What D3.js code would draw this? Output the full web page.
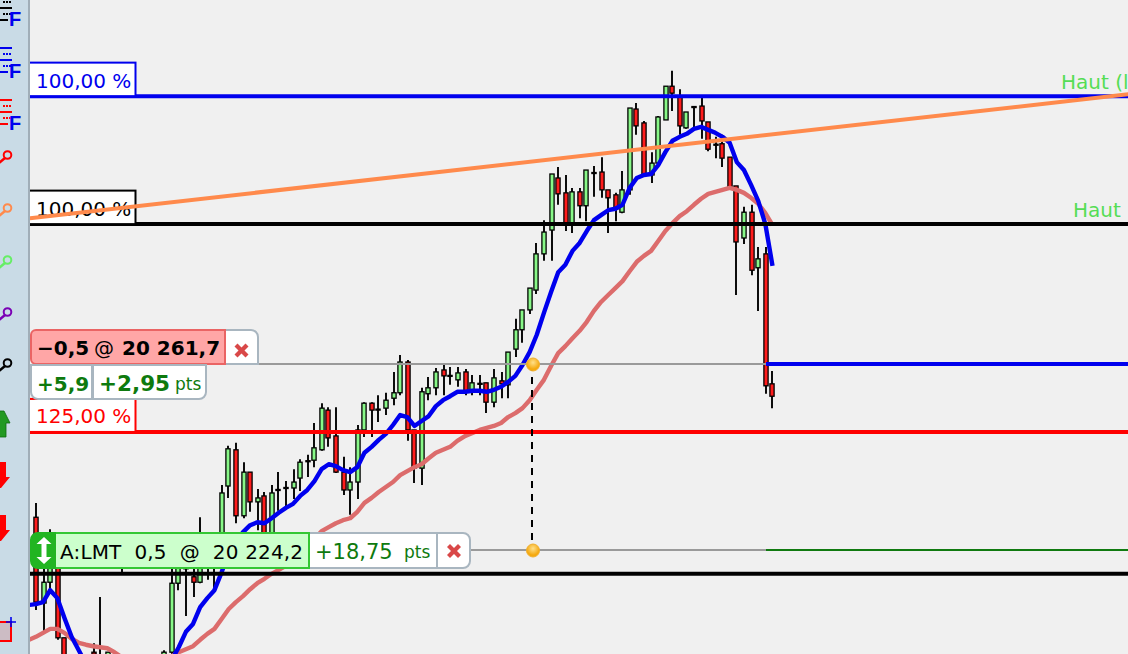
<!DOCTYPE html>
<html><head><meta charset="utf-8">
<script src="https://cdn.jsdelivr.net/npm/d3@7/dist/d3.min.js"></script>
<style>html,body{margin:0;padding:0;background:#f0f0f0;overflow:hidden}svg{display:block}text{font-family:"DejaVu Sans",sans-serif}</style>
</head><body><svg id="c" width="1128" height="654"></svg>
<script>
const open=[20230.8,20213.5,20217.7,20221.2,20206.5,20201,20199,20198,20203.6,20201,20203,20201,20222.2,20199,20199,20200,20200,20200,20202,20203.6,20217.5,20220.8,20218.8,20217.7,20221,20222.2,20221.2,20237.1,20244.4,20231.1,20239.9,20233.9,20235.1,20227.2,20236.4,20236.8,20236.7,20238.7,20242.2,20242.3,20244.4,20252.4,20247.2,20239.9,20236.3,20237.9,20248.4,20253.8,20252.6,20252.8,20254.8,20255.9,20262.1,20248.4,20240.7,20255.7,20256.9,20260.5,20259.4,20258.5,20260.1,20256.1,20257.8,20257.9,20254,20258.3,20257.5,20264.7,20268.6,20272.6,20276.6,20283.9,20288.7,20299.2,20296.2,20290.1,20296.4,20293.6,20300.3,20300.4,20296.8,20295.8,20292.3,20296.8,20313.1,20310.3,20299.8,20302.2,20310.9,20317.7,20315.5,20309.3,20313.6,20313.7,20310.5,20306,20306.1,20303.4,20297.6,20287.1,20292.3,20281.1,20283.9,20257.7];
const high=[20233.7,20222.2,20228.4,20225.2,20206.5,20202,20200,20199,20205.4,20214.7,20203.6,20202.8,20227.2,20200,20200,20201,20201,20201,20204,20221.2,20224.2,20223.2,20221.2,20230.8,20224.2,20224.2,20237.3,20245.2,20245.8,20241.9,20239.9,20236.5,20235.9,20237.3,20239.9,20238.1,20240.5,20242.5,20243.4,20249.8,20253.8,20253,20253,20243,20240.9,20249.4,20254,20254,20255.4,20255.9,20260.1,20263.5,20262.5,20248.4,20256.9,20259.1,20260.9,20261.5,20261.1,20261.1,20260.7,20259.5,20259.5,20257.9,20260.7,20260.1,20264.1,20270.8,20272.6,20277,20286.1,20290.7,20300,20301.4,20299.8,20297.2,20297.2,20300.8,20301.6,20303.4,20296.8,20296.2,20300.6,20313.3,20314.3,20310.7,20304.4,20311.7,20317.7,20320.8,20317.1,20312.5,20313.7,20315.3,20310.5,20307.5,20307.9,20303.4,20297.6,20293.4,20293.8,20285.3,20285.3,20260.3];
const low=[20212.1,20207.7,20216.1,20206.1,20199.6,20196,20194,20194,20200,20200,20200,20198,20219.4,20196,20196,20197,20197,20197,20199,20203.2,20216.1,20210.9,20214.7,20217.5,20218.2,20215.7,20221,20234.7,20229.6,20230.6,20231.9,20228.2,20222.2,20225.2,20232.1,20232.7,20234.5,20236.1,20238.9,20240.9,20244.2,20245,20239.7,20235.3,20231.3,20234.5,20247,20247,20250,20251.4,20253.4,20255.4,20246.2,20237.7,20237.3,20254.4,20255.4,20255.4,20257.5,20257.1,20255.4,20255.4,20255.4,20251.8,20253,20254.8,20254.8,20263.1,20266,20271.8,20275.8,20282.5,20282.5,20293.8,20288.5,20288.1,20291.1,20290.5,20295.4,20295.2,20288.1,20290.5,20292.1,20295.8,20307.9,20299.8,20298.2,20301.8,20310.9,20312.7,20307.9,20309.1,20309.3,20307.1,20304.6,20303.2,20301.4,20297.4,20275.6,20285.9,20279.6,20272.4,20255.7,20252.8];
const close=[20213.7,20217.7,20222.2,20206.5,20201,20199,20198,20199,20203.2,20201.6,20203.6,20202,20225.2,20200,20200,20199,20199,20201,20203.6,20217.5,20222.2,20220.4,20217.7,20222.2,20221.2,20222.6,20235.7,20244.6,20231.1,20239.9,20233.9,20234.7,20226.2,20235.7,20236.2,20236.6,20237.9,20241.9,20242,20244.8,20252.8,20246.8,20239.9,20236.3,20237.9,20248.4,20253.8,20252.4,20252.4,20254.4,20255.9,20262.1,20248.4,20240.7,20256.1,20256.9,20260.1,20259.3,20259.2,20259.9,20256.1,20257.9,20257.6,20254,20258.9,20257.7,20264.1,20268.6,20272.6,20277,20283.9,20288.3,20300,20296,20290.1,20296.4,20293.6,20300.8,20300.1,20296.8,20295.2,20293,20296.8,20313.3,20309.7,20299.8,20302.2,20311.5,20317.7,20316.3,20309.7,20312.5,20313.4,20310.7,20305,20305.8,20303.2,20297.4,20286.3,20292.3,20280.6,20282.9,20257.3,20255.2];
const fastAvg=[20213.1,20213.3,20213.7,20216.1,20214.5,20210.5,20206.7,20204,20201.2,20199.6,20198.4,20197.6,20196.8,20196.4,20196,20196,20196,20196.4,20198,20200,20202,20204.6,20207.7,20209.3,20212.7,20214.5,20216.1,20219.7,20223.6,20226,20227.8,20229.2,20229.8,20229.6,20230.6,20231.7,20232.7,20233.5,20235.1,20236.3,20238.1,20240.5,20241.5,20241.1,20240.3,20239.9,20240.9,20243.8,20245,20246.4,20247.6,20249.4,20251.4,20251,20249.2,20250.2,20251.2,20253.2,20254.4,20255.2,20256.1,20256.1,20256.3,20256.3,20256.1,20256.5,20257.1,20258.1,20259.3,20261.5,20264.1,20267.6,20272,20276.2,20280.2,20281.7,20284.5,20286.1,20288.5,20290.7,20291.7,20292.7,20293,20293.8,20297.2,20299.2,20299.8,20300,20301.8,20304.4,20306.7,20307.5,20308.1,20309.1,20309.5,20308.9,20308.3,20307.5,20306.3,20302.4,20300.8,20297.8,20294.6,20289.9,20281.5];
const slowAvg=[20206.1,20206.7,20207.5,20208.3,20208.3,20207.5,20206.3,20205.5,20205.1,20204.8,20204.6,20204.4,20203.6,20202.6,20201.6,20200.6,20200,20200,20200.4,20201.4,20202.8,20203.6,20204.2,20204.8,20206.1,20207.3,20208.3,20210.3,20212.3,20213.7,20214.9,20216.3,20217.5,20218.4,20219.4,20220.2,20221,20222.2,20223.4,20224.6,20226.4,20228,20228.8,20229.6,20230.2,20230.6,20231.9,20233.7,20234.7,20235.9,20236.9,20237.9,20239.3,20240.1,20240.9,20241.5,20242.7,20243.8,20244.4,20245,20246.2,20247.2,20247.8,20248.4,20248.8,20249.2,20249.8,20251,20251.8,20252.8,20254.4,20256.5,20258.5,20261.3,20263.9,20265.3,20266.9,20268.4,20270.2,20272.4,20274.2,20275.6,20277,20278.4,20280.4,20282.3,20283.5,20284.5,20286.5,20288.5,20290.1,20291.5,20292.5,20293.8,20295,20296,20296.4,20296.8,20297.2,20296.8,20296.2,20295.2,20294,20292.1,20289.7];
const avgFirstBar=-1;
const levelBlue=20315.7, levelBlack=20289.9, levelRed=20248.0, levelStop=20219.4;
const shortPrice=20261.7, longPrice=20224.2;
const trendBars=[-0.84,152.9], trendPrices=[20291.1,20316.1];
const pctLabels=["100,00 %","100,00 %","125,00 %"];
const shortOrder=["−0,5","@","20 261,7"], shortPnl=["+5,9","+2,95","pts"];
const longOrder="A:LMT  0,5  @  20 224,2", longPnl=["+18,75","pts"];
const hautLabels=["Haut (l","Haut"];

const W=1128,H=654,PL=30;
const x=d3.scaleLinear().domain([19,59,60,103]).range([171.6,457.3,465.35,772.5]);
const y=d3.scaleLinear().domain([20335.08-654*0.2016,20335.08]).range([654,0]);
const sx=i=>Math.round(x(i)/2)*2;
const svg=d3.select("#c");
svg.append("rect").attr("width",W).attr("height",H).attr("fill","#f0f0f0");
svg.append("clipPath").attr("id","pl").append("rect").attr("x",PL).attr("y",0).attr("width",W-PL).attr("height",H);
const plot=svg.append("g").attr("clip-path","url(#pl)");
const bars=d3.range(open.length);
plot.append("g").selectAll("line").data(bars).join("line")
 .attr("x1",sx).attr("x2",sx).attr("y1",i=>y(high[i])).attr("y2",i=>y(low[i]))
 .attr("stroke","#000").attr("stroke-width",1.9);
plot.append("g").selectAll("rect").data(bars).join("rect")
 .attr("x",i=>sx(i)-2.1).attr("width",4.2)
 .attr("y",i=>y(Math.max(open[i],close[i])))
 .attr("height",i=>Math.abs(y(open[i])-y(close[i])))
 .attr("fill",i=>close[i]>=open[i]?"#88f888":"#ff1c1c").attr("stroke","#000").attr("stroke-width",1.3);
const avgLine=d3.line().x((d,k)=>x(k+avgFirstBar)).y(d=>y(d));
plot.append("path").attr("d",avgLine(slowAvg)).attr("fill","none").attr("stroke","#dc6c6c").attr("stroke-width",4.4).attr("stroke-linejoin","round");
plot.append("path").attr("d",avgLine(fastAvg)).attr("fill","none").attr("stroke","#0000ee").attr("stroke-width",4.4).attr("stroke-linejoin","round");
const hl=(a,b,v,c,w)=>plot.append("line").attr("x1",a).attr("x2",b).attr("y1",y(v)).attr("y2",y(v)).attr("stroke",c).attr("stroke-width",w);
hl(PL,W,levelBlue,"#0000ee",4);
hl(PL,W,levelBlack,"#000",4);
hl(PL,W,levelRed,"#ff0000",4);
hl(PL,W,levelStop,"#000",4);
hl(258,766,shortPrice,"#9a9a9a",2.2);
hl(470,766,longPrice,"#9a9a9a",2.2);
hl(766,W,shortPrice,"#0000ee",4);
hl(766,W,longPrice,"#107a10",2);
plot.append("line").attr("x1",532).attr("x2",532).attr("y1",y(shortPrice)).attr("y2",y(longPrice)).attr("stroke","#000").attr("stroke-width",2).attr("stroke-dasharray","7 6");
const t=(s,xx,yy,size,c,w,a)=>svg.append("text").attr("x",xx).attr("y",yy).attr("font-size",size).attr("fill",c).attr("font-weight",w||400).attr("text-anchor",a||"start").attr("xml:space","preserve").text(s);
const box=(xx,yy,w,h,f,s,sw)=>svg.append("rect").attr("x",xx).attr("y",yy).attr("width",w).attr("height",h).attr("fill",f).attr("stroke",s).attr("stroke-width",sw||2);
box(28,y(levelBlue)-33.5,107.5,33.5,"#fff","#0000ee"); t(pctLabels[0],36,y(levelBlue)-8,20,"#0000ee");
box(28,y(levelBlack)-33.5,107.5,33.5,"#fff","#000"); t(pctLabels[1],36,y(levelBlack)-8,20,"#000");
box(28,y(levelRed)-33,107.5,33,"#fff","#ff0000"); t(pctLabels[2],36,y(levelRed)-9,20,"#ff0000");
svg.append("line").attr("clip-path","url(#pl)").attr("x1",x(trendBars[0])).attr("x2",x(trendBars[1])).attr("y1",y(trendPrices[0])).attr("y2",y(trendPrices[1])).attr("stroke","#ff8a4c").attr("stroke-width",4);
t(hautLabels[0],1061,89,20,"#55dd55");
t(hautLabels[1],1073,217,20,"#55dd55");
const defs=svg.append("defs");
const g=defs.append("radialGradient").attr("id","gold").attr("cy","35%");
g.append("stop").attr("offset","0%").attr("stop-color","#ffe08a");
g.append("stop").attr("offset","100%").attr("stop-color","#f5a90f");
[shortPrice,longPrice].forEach(v=>svg.append("circle").attr("cx",533).attr("cy",y(v)+.5).attr("r",6.5).attr("fill","url(#gold)").attr("stroke","#f0b030").attr("stroke-width",1));
const X=(cx,cy)=>{[[-1,-1],[-1,1]].forEach(d=>svg.append("line").attr("x1",cx+d[0]*5.5).attr("x2",cx-d[0]*5.5).attr("y1",cy+d[1]*5.5).attr("y2",cy-d[1]*5.5).attr("stroke","#d94848").attr("stroke-width",4.2));};
const ys=y(shortPrice), yl=y(longPrice);
svg.append("path").attr("d",`M225 ${ys-34}H251a7 7 0 0 1 7 7V${ys}H225Z`).attr("fill","#fff").attr("stroke","#a9b6c0").attr("stroke-width",2);
svg.append("path").attr("d",`M36 ${ys-34}H225V${ys}H36a5 5 0 0 1 -5 -5V${ys-29}a5 5 0 0 1 5 -5Z`).attr("fill","#ffa6a6").attr("stroke","#ea6464").attr("stroke-width",2);
X(241.5,ys-13.5);
t(shortOrder[0],37,ys-9,20,"#000",700);
t(shortOrder[1],94,ys-9,20,"#000");
t(shortOrder[2],122,ys-9,20,"#000",700);
svg.append("path").attr("d",`M31 ${ys+1}H92V${ys+35}H38a7 7 0 0 1 -7 -7Z`).attr("fill","#fff").attr("stroke","#a9b6c0").attr("stroke-width",2);
svg.append("path").attr("d",`M93 ${ys+1}H206V${ys+28}a7 7 0 0 1 -7 7H93Z`).attr("fill","#fff").attr("stroke","#a9b6c0").attr("stroke-width",2);
t(shortPnl[0],37,ys+27,20,"#0e7a0e",700);
t(shortPnl[1],99,ys+27,21.5,"#0e7a0e",700);
t(shortPnl[2],175,ys+26,17,"#0e7a0e");
svg.append("path").attr("d",`M309 ${yl-17}H437V${yl+18}H309Z`).attr("fill","#fff").attr("stroke","#a9b6c0").attr("stroke-width",2);
svg.append("path").attr("d",`M437 ${yl-17}H463a7 7 0 0 1 7 7V${yl+11}a7 7 0 0 1 -7 7H437Z`).attr("fill","#fff").attr("stroke","#a9b6c0").attr("stroke-width",2);
svg.append("rect").attr("x",55).attr("y",yl-17).attr("width",254).attr("height",35).attr("fill","#ccffcc").attr("stroke","#34c734").attr("stroke-width",2);
svg.append("path").attr("d",`M55 ${yl-17}H38a7 7 0 0 0 -7 7V${yl+11}a7 7 0 0 0 7 7H55Z`).attr("fill","#22b522").attr("stroke","#22b522").attr("stroke-width",2);
svg.append("path").attr("d",`M44 ${yl-13}l7.5 7h-5v13h5l-7.5 7l-7.5 -7h5v-13h-5Z`).attr("fill","#fff");
t(longOrder,60,yl+9,20,"#000").attr("textLength",243).attr("lengthAdjust","spacing");
t(longPnl[0],315,yl+9,21,"#0e7a0e");
t(longPnl[1],404,yl+8,17,"#0e7a0e");
X(454,yl+1);
const side=svg.append("g");
side.append("rect").attr("width",28).attr("height",H).attr("fill","#c9dbe6");
side.append("rect").attr("x",28).attr("width",2).attr("height",H).attr("fill","#a0aeb8");
[[-4,"#000"],[48,"#0000ee"],[100,"#ff0000"]].forEach(d=>{
 [0,6,12,18,24].forEach((o,k)=>side.append("line").attr("x1",k%2?3:0).attr("x2",k==4?8:12).attr("y1",d[0]+o).attr("y2",d[0]+o).attr("stroke",d[1]).attr("stroke-width",2).attr("stroke-dasharray",k%2?"2 1":null));
 side.append("text").attr("x",9).attr("y",d[0]+30).attr("font-size",20).attr("font-weight",700).attr("fill","#0000ee").style("font-family","Liberation Sans").text("F");
});
[[155,"#ff0000"],[208,"#ff8a4c"],[260,"#66ee66"],[312,"#7a00b5"],[363,"#000"]].forEach(d=>{
 side.append("circle").attr("cx",7.5).attr("cy",d[0]).attr("r",3.8).attr("fill","none").attr("stroke",d[1]).attr("stroke-width",2);
 side.append("line").attr("x1",5).attr("y1",d[0]+3).attr("x2",-1).attr("y2",d[0]+8).attr("stroke",d[1]).attr("stroke-width",2.5);
});
side.append("path").attr("d","M4 411L10 423H6V437H-4V411Z").attr("fill","#229922").attr("stroke","#0c6a0c").attr("stroke-width",.8);
[462,515].forEach(v=>side.append("path").attr("d",`M-2 ${v}H6V${v+15}H10L1 ${v+26}H-2Z`).attr("fill","#ff0000"));
side.append("rect").attr("x",-4).attr("y",622).attr("width",15).attr("height",19).attr("fill","#ccbcc4").attr("stroke","#ff0000").attr("stroke-width",2);
side.append("path").attr("d","M6 622H16M11 617V627").attr("stroke","#0000ee").attr("stroke-width",1.6);
</script></body></html>
